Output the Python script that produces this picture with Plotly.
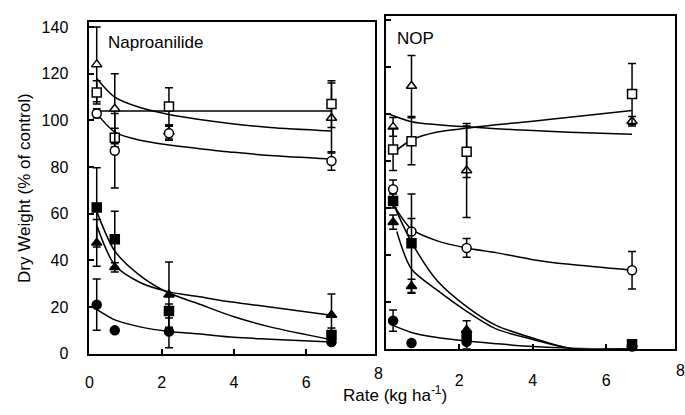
import plotly.graph_objects as go

# ---------------- data ----------------
rates = [0.2, 0.7, 2.2, 6.7]

# Naproanilide (left panel) observed values and error bars
nap_tri_open = [124, 105, 95, 101]
nap_tri_open_err = [16, 15, 3, 15]
nap_sq_open = [112, 92.6, 106, 107]
nap_sq_open_err = [5, 4, 8, 10]
nap_cir_open = [103, 87, 94.5, 82.6]
nap_cir_open_err = [2, 16, 3, 4]
nap_sq_fill = [62.7, 49, 18.3, 8]
nap_sq_fill_err = [17, 12, 3, 3]
nap_tri_fill = [47.5, 37, 25.3, 16.6]
nap_tri_fill_err = [10, 2, 14, 9]
nap_cir_fill = [21, 10, 9.5, 5]
nap_cir_fill_err = [11, 1, 7, 1]

# NOP (right panel) observed values and error bars
nop_tri_open = [94.6, 112, 76, 97]
nop_tri_open_err = [4, 13, 20, 2]
nop_sq_open = [85, 88.5, 84, 108.6]
nop_sq_open_err = [9, 10, 11, 13]
nop_cir_open = [68, 50, 43, 33.5]
nop_cir_open_err = [4, 5.5, 4, 8]
nop_sq_fill = [63, 45, 5.5, 2]
nop_sq_fill_err = [3, 21, 2, 0]
nop_tri_fill = [54, 26.7, 8, 2]
nop_tri_fill_err = [3, 3, 4, 0]
nop_cir_fill = [12, 2.5, 3, 1]
nop_cir_fill_err = [4.5, 0, 3, 0]

# fitted curves
fit_x = [0.2, 0.7, 1.4, 2.2, 3.0, 4.0, 5.0, 6.7]
nap_fit_tri_open = [118, 110, 105.5, 102.5, 100.5, 98.5, 97, 95.5]
nap_fit_sq_open_x = [0.2, 6.7]
nap_fit_sq_open = [104, 104]
nap_fit_cir_open = [103, 95, 91.5, 89.5, 88, 86.3, 85, 83.5]
nap_fit_sq_fill = [61, 44, 33.5, 26, 21.5, 15.8, 11.5, 6]
nap_fit_tri_fill = [55, 38, 30.5, 26.5, 24.5, 22, 20, 16.5]
nap_fit_cir_fill = [19, 14.5, 11.5, 9.5, 8.5, 7, 6.2, 5]

nop_fit_tri_open_x = [0.1, 0.7, 1.4, 2.2, 3.0, 4.0, 5.0, 6.7]
nop_fit_tri_open = [100, 96.8, 95.5, 94.6, 93.8, 93, 92.3, 91.5]
nop_fit_sq_open = [83.5, 89, 92.4, 94, 95.5, 97, 98.7, 101.6]
nop_fit_cir_open_x = [0.15, 0.7, 1.4, 2.2, 3.0, 4.0, 5.0, 6.7]
nop_fit_cir_open = [63, 51, 46, 43, 41, 38, 36, 33.5]
nop_fit_sq_fill_x = [0.2, 0.7, 1.4, 2.2, 3.0, 4.0, 5.1, 6.7]
nop_fit_sq_fill = [62, 45.5, 29, 18, 10, 4.6, 0, 0]
nop_fit_tri_fill_x = [0.3, 0.7, 1.4, 2.2, 3.0, 4.0, 5.1, 6.7]
nop_fit_tri_fill = [50, 34, 25, 16, 8.5, 4.0, 0, 0]
nop_fit_cir_fill = [10, 7, 4.8, 3.3, 2.2, 1, 0.3, 0]

y_ticks = [0, 20, 40, 60, 80, 100, 120, 140]
x_ticks_left = [0, 2, 4, 6]
x_ticks_right = [2, 4, 6]
x_end_label = "8"

FONT = "Liberation Sans, Arial, sans-serif"
W, H = 685, 415
X_LEFT_MAX = 7.9
X_RIGHT_MAX = 7.87

fig = go.Figure()


def add_points(x, y, err, symbol, filled, xa, ya):
    fig.add_trace(go.Scatter(
        x=x, y=y, xaxis=xa, yaxis=ya, mode="markers",
        marker=dict(symbol=symbol, size=9,
                    color="black" if filled else "white",
                    line=dict(color="black", width=1.5)),
        error_y=dict(type="data", array=err, visible=True,
                     color="black", thickness=1.5, width=4),
        showlegend=False, cliponaxis=False))


def add_curve(x, y, xa, ya):
    fig.add_trace(go.Scatter(
        x=x, y=y, xaxis=xa, yaxis=ya, mode="lines",
        line=dict(color="black", width=1.5, shape="spline", smoothing=0.8),
        showlegend=False))


# left panel curves
add_curve(fit_x, nap_fit_tri_open, "x", "y")
add_curve(nap_fit_sq_open_x, nap_fit_sq_open, "x", "y")
add_curve(fit_x, nap_fit_cir_open, "x", "y")
add_curve(fit_x, nap_fit_sq_fill, "x", "y")
add_curve(fit_x, nap_fit_tri_fill, "x", "y")
add_curve(fit_x, nap_fit_cir_fill, "x", "y")
# left panel points
add_points(rates, nap_tri_open, nap_tri_open_err, "triangle-up", False, "x", "y")
add_points(rates, nap_sq_open, nap_sq_open_err, "square", False, "x", "y")
add_points(rates, nap_cir_open, nap_cir_open_err, "circle", False, "x", "y")
add_points(rates, nap_sq_fill, nap_sq_fill_err, "square", True, "x", "y")
add_points(rates, nap_tri_fill, nap_tri_fill_err, "triangle-up", True, "x", "y")
add_points(rates, nap_cir_fill, nap_cir_fill_err, "circle", True, "x", "y")

# right panel curves
add_curve(nop_fit_tri_open_x, nop_fit_tri_open, "x2", "y2")
add_curve(fit_x, nop_fit_sq_open, "x2", "y2")
add_curve(nop_fit_cir_open_x, nop_fit_cir_open, "x2", "y2")
add_curve(nop_fit_sq_fill_x, nop_fit_sq_fill, "x2", "y2")
add_curve(nop_fit_tri_fill_x, nop_fit_tri_fill, "x2", "y2")
add_curve(fit_x, nop_fit_cir_fill, "x2", "y2")
# right panel points
add_points(rates, nop_tri_open, nop_tri_open_err, "triangle-up", False, "x2", "y2")
add_points(rates, nop_sq_open, nop_sq_open_err, "square", False, "x2", "y2")
add_points(rates, nop_cir_open, nop_cir_open_err, "circle", False, "x2", "y2")
add_points(rates, nop_sq_fill, nop_sq_fill_err, "square", True, "x2", "y2")
add_points(rates, nop_tri_fill, nop_tri_fill_err, "triangle-up", True, "x2", "y2")
add_points(rates, nop_cir_fill, nop_cir_fill_err, "circle", True, "x2", "y2")

axis_common = dict(showline=True, linecolor="black", linewidth=2, mirror=True,
                   ticks="inside", ticklen=5, tickcolor="black", tickwidth=1.5,
                   showgrid=False, zeroline=False,
                   tickfont=dict(family=FONT, size=16, color="black"))

fig.update_layout(
    width=W, height=H, margin=dict(l=0, r=0, t=0, b=0),
    paper_bgcolor="white", plot_bgcolor="white",
    xaxis=dict(domain=[86 / W, 373 / W], range=[0, X_LEFT_MAX], tickvals=x_ticks_left,
               anchor="y", ticklabelstandoff=13, **axis_common),
    yaxis=dict(domain=[1 - 361 / H, 1 - 19 / H], range=[0, 142], tickvals=y_ticks,
               anchor="x", ticklabelstandoff=16, **axis_common),
    xaxis2=dict(domain=[384 / W, 675 / W], range=[0, X_RIGHT_MAX], tickvals=x_ticks_right,
                anchor="y2", ticklabelstandoff=16, **axis_common),
    yaxis2=dict(domain=[1 - 356 / H, 1 - 12 / H], range=[0, 142], tickvals=y_ticks,
                anchor="x2", showticklabels=False, **axis_common),
)

tf = dict(family=FONT, size=16, color="black")
# the "8" tick labels at each panel's right end (just past the frame)
fig.add_annotation(x=377 / W, xref="paper", y=1 - 381 / H, yref="paper",
                   text=x_end_label, showarrow=False, font=tf,
                   xanchor="center", yanchor="middle")
fig.add_annotation(x=680 / W, xref="paper", y=1 - 378 / H, yref="paper",
                   text=x_end_label, showarrow=False, font=tf,
                   xanchor="center", yanchor="middle")

fig.add_annotation(x=103 / W, y=1 - 40 / H, xref="paper", yref="paper",
                   text="Naproanilide", showarrow=False, xanchor="left",
                   yanchor="middle", font=dict(family=FONT, size=17, color="black"))
fig.add_annotation(x=393 / W, y=1 - 36 / H, xref="paper", yref="paper",
                   text="NOP", showarrow=False, xanchor="left",
                   yanchor="middle", font=dict(family=FONT, size=17, color="black"))
fig.add_annotation(x=20 / W, y=1 - 190 / H, xref="paper", yref="paper",
                   text="Dry Weight (% of control)", showarrow=False, textangle=-90,
                   xanchor="center", yanchor="middle",
                   font=dict(family=FONT, size=17, color="black"))
fig.add_annotation(x=393 / W, y=1 - 403 / H, xref="paper", yref="paper",
                   text="Rate (kg ha<sup>-1</sup>)", showarrow=False,
                   xanchor="center", yanchor="middle",
                   font=dict(family=FONT, size=17, color="black"))

fig.write_html("out.html",
               config={"displayModeBar": False},
               post_script="document.body.style.margin='0';document.body.style.padding='0';"
                           "document.body.style.overflow='hidden';")
